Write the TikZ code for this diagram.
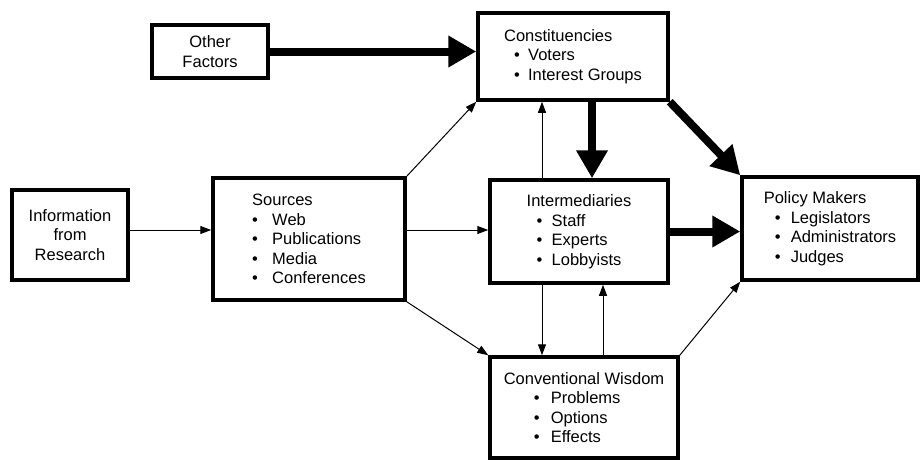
\documentclass[tikz,border=0pt]{standalone}
\usepackage{fontspec}
\setmainfont{Liberation Sans}
\usetikzlibrary{arrows.meta}
\newcommand{\bitm}[3]{\hspace*{#1}\makebox[#2][l]{\textbullet}#3}
\begin{document}
\begin{tikzpicture}[x=1pt,y=-1pt,
  box/.style={draw,line width=3.5pt,rectangle,inner sep=0pt,align=left,
    font=\fontsize{16.5}{19.5}\selectfont},
  thinarrow/.style={line width=1pt,-{Triangle[length=11pt,width=8pt]}},
  thickarrow/.style={line width=8pt,-{Triangle[length=28pt,width=30pt]}}]
\useasboundingbox[fill=white] (0,0) rectangle (922,461);
\node[box,minimum width=116pt,minimum height=90pt,align=center] (info) at (70,235)
  {Information\\from\\Research};
\node[box,minimum width=192pt,minimum height=122pt] (sources) at (309,239)
  {Sources\\ \bitm{0pt}{20pt}{Web}\\ \bitm{0pt}{20pt}{Publications}\\ \bitm{0pt}{20pt}{Media}\\ \bitm{0pt}{20pt}{Conferences}};
\node[box,minimum width=116pt,minimum height=53pt,align=center] (other) at (210,51.5)
  {Other\\Factors};
\node[box,minimum width=190pt,minimum height=87pt] (const) at (573,56.5)
  {Constituencies\\ \bitm{10pt}{14pt}{Voters}\\ \bitm{10pt}{14pt}{Interest Groups}};
\node[box,minimum width=178pt,minimum height=103pt] (inter) at (579,231.5)
  {Intermediaries\\ \bitm{10pt}{15pt}{Staff}\\ \bitm{10pt}{15pt}{Experts}\\ \bitm{10pt}{15pt}{Lobbyists}};
\node[box,minimum width=176pt,minimum height=103pt] (policy) at (830,228.5)
  {Policy Makers\\ \bitm{11pt}{16pt}{Legislators}\\ \bitm{11pt}{16pt}{Administrators}\\ \bitm{11pt}{16pt}{Judges}};
\node[box,minimum width=188pt,minimum height=101pt] (cw) at (584,407.5)
  {Conventional Wisdom\\ \bitm{30pt}{17pt}{Problems}\\ \bitm{30pt}{17pt}{Options}\\ \bitm{30pt}{17pt}{Effects}};
% thin arrows
\draw[thinarrow] ([yshift=5pt]info.east) -- ([yshift=5pt]info.east -| sources.west);
\draw[thinarrow] (sources.north east) -- (const.south west);
\draw[thinarrow] ([yshift=9pt]sources.east) -- ([yshift=9pt]sources.east -| inter.west);
\draw[thinarrow] (sources.south east) -- (cw.north west);
\draw[thinarrow] ([xshift=-37pt]inter.north) -- ([xshift=-37pt]inter.north |- const.south);
\draw[thinarrow] ([xshift=-37pt]inter.south) -- ([xshift=-37pt]inter.south |- cw.north);
\draw[thinarrow] ([xshift=24pt]cw.north -| inter.south) -- ([xshift=24pt]inter.south);
\draw[thinarrow] (cw.north east) -- (policy.south west);
% thick arrows
\draw[thickarrow] (other.east) -- (other.east -| const.west);
\draw[thickarrow] ([xshift=19pt]const.south) -- ([xshift=19pt]const.south |- inter.north);
\draw[thickarrow] (const.south east) -- (policy.north west);
\draw[thickarrow] (inter.east) -- (inter.east -| policy.west);
\end{tikzpicture}
\end{document}
